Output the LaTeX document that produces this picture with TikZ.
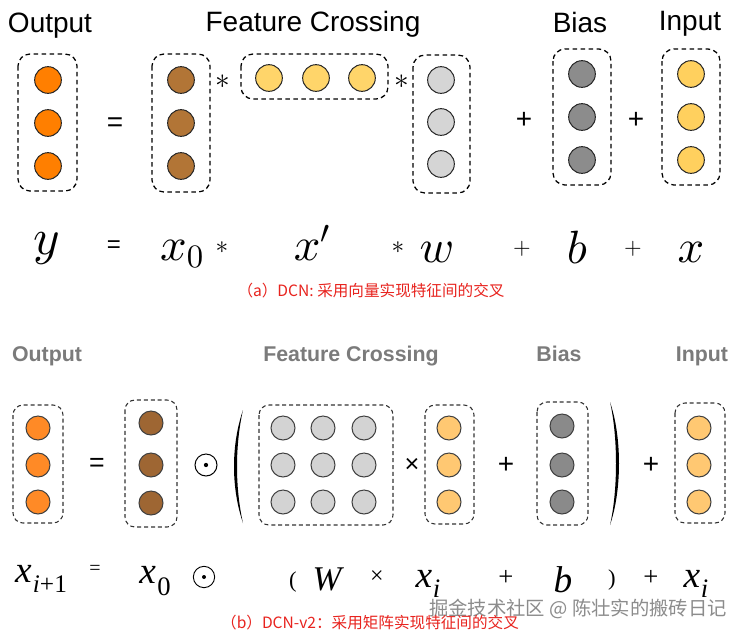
\documentclass[tikz,border=0pt]{standalone}
\usepackage{fontspec}
\DeclareFontShape{OML}{cmm}{m}{it}{<->cmmi10}{\skewchar\font'177}
\DeclareFontShape{OMS}{cmsy}{m}{n}{<->cmsy10}{\skewchar\font'60}
\DeclareFontShape{OT1}{cmr}{m}{n}{<->cmr10}{}
\newfontfamily\hel{Liberation Sans}
\newfontfamily\tms{Liberation Serif}
\newfontfamily\cjk{Noto Sans CJK SC}
\definecolor{orgA}{HTML}{FF7F00}
\definecolor{brnA}{HTML}{B27536}
\definecolor{ylwA}{HTML}{FFD56A}
\definecolor{lgA}{HTML}{D5D5D5}
\definecolor{dgA}{HTML}{8C8C8C}
\definecolor{inA}{HTML}{FFD05E}
\definecolor{orgB}{HTML}{FF8A26}
\definecolor{brnB}{HTML}{9E6633}
\definecolor{lgB}{HTML}{D3D3D3}
\definecolor{ylwB}{HTML}{FFC872}
\definecolor{dgB}{HTML}{8A8A8A}
\definecolor{labgray}{HTML}{7B7B7B}
\definecolor{capred}{HTML}{E8231E}
\begin{document}
\begin{tikzpicture}[x=0.75pt,y=-0.75pt,
  dboxa/.style={draw=black, line width=0.95pt, dash pattern=on 3.5pt off 2.5pt, rounded corners=9pt},
  dboxb/.style={draw=black!80, line width=0.8pt, dash pattern=on 3pt off 2.2pt, rounded corners=7.5pt},
  ca/.style={circle, draw=black!85, line width=0.75pt, minimum size=20pt, inner sep=0pt},
  cb/.style={circle, draw=black!75, line width=0.75pt, minimum size=18pt, inner sep=0pt},
  hd/.style={font=\hel\fontsize{21}{24}\selectfont, anchor=base, inner sep=0pt},
  hdb/.style={font=\hel\bfseries\fontsize{16}{18}\selectfont, text=labgray, anchor=base, inner sep=0pt},
  cmm/.style={font=\fontsize{35}{40}\selectfont, anchor=base, inner sep=0pt},
  tmm/.style={font=\tms\itshape\fontsize{28}{30}\selectfont, anchor=base, inner sep=0pt},
  op/.style={inner sep=0pt},
  capt/.style={font=\cjk\fontsize{11.7}{14}\selectfont, text=capred, inner sep=0pt}]
\useasboundingbox[fill=white] (0,0) rectangle (740,637);

% ---------- (a) top ----------
\node[hd] (tOut) at (50,32) {Output};
\node[hd] (tFC) at (313,31) {Feature Crossing};
\node[hd] (tBias) at (580,32) {Bias};
\node[hd] (tIn) at (690,30) {Input};

\draw[dboxa] (18,54) rectangle (77,191);
\foreach \y [count=\i] in {80,123,166} \node[ca, fill=orgA] (aO\i) at (48,\y) {};
\node[op, font=\hel\fontsize{21}{24}\selectfont] (aEq) at (115,125) {=};

\draw[dboxa] (152,54) rectangle (210,192);
\foreach \y [count=\i] in {80,123,166} \node[ca, fill=brnA] (aX\i) at (181,\y) {};
\node[op, font=\fontsize{22}{24}\selectfont] (aS1) at (223,82) {$\ast$};

\draw[dboxa] (241,54) rectangle (388,99);
\foreach \x [count=\i] in {269,316,362} \node[ca, fill=ylwA] (aP\i) at (\x,78) {};
\node[op, font=\fontsize{22}{24}\selectfont] (aS2) at (402,82) {$\ast$};

\draw[dboxa] (413,55) rectangle (470,193);
\foreach \y [count=\i] in {80,122,164} \node[ca, fill=lgA] (aW\i) at (441,\y) {};

\node[op, font=\hel\fontsize{21}{24}\selectfont] (aPl1) at (524,120) {+};
\draw[dboxa] (553,49) rectangle (611,185);
\foreach \y [count=\i] in {74,117,160} \node[ca, fill=dgA] (aB\i) at (582,\y) {};

\node[op, font=\hel\fontsize{21}{24}\selectfont] (aPl2) at (636,120) {+};
\draw[dboxa] (662,49) rectangle (720,185);
\foreach \y [count=\i] in {74,117,160} \node[ca, fill=inA] (aI\i) at (691,\y) {};

% equation (a)
\node[cmm, font=\fontsize{38}{40}\selectfont] (eY) at (47,254) {$y$};
\node[op, font=\hel\fontsize{18}{20}\selectfont] (eEq) at (114,247) {=};
\node[cmm] (eX0) at (182,260) {$x_0$};
\node[op, font=\fontsize{19}{20}\selectfont] (eS1) at (222,248) {$\ast$};
\node[cmm] (eXp) at (312,260) {$x'$};
\node[op, font=\fontsize{19}{20}\selectfont] (eS2) at (398,248) {$\ast$};
\node[cmm] (eW) at (437,262) {$w$};
\node[op, font=\fontsize{17}{18}\selectfont] (ePl1) at (522,249) {$+$};
\node[cmm] (eB) at (577,263) {$b$};
\node[op, font=\fontsize{17}{18}\selectfont] (ePl2) at (633,249) {$+$};
\node[cmm] (eX) at (691,262) {$x$};

\node[capt] (capA) at (371,291) {（a）DCN: 采用向量实现特征间的交叉};

% ---------- (b) bottom ----------
\node[hdb] (bOut) at (47,361) {Output};
\node[hdb] (bFC) at (351,361) {Feature Crossing};
\node[hdb] (bBias) at (559,361) {Bias};
\node[hdb] (bIn) at (702,361) {Input};

\draw[dboxb] (13,405) rectangle (63,523);
\foreach \y [count=\i] in {428,465,502} \node[cb, fill=orgB] (bO\i) at (38,\y) {};
\node[op, font=\hel\fontsize{20}{22}\selectfont] (bEq) at (97,465) {=};

\draw[dboxb] (125,400) rectangle (177,527);
\foreach \y [count=\i] in {423,465,503} \node[cb, fill=brnB] (bX\i) at (151,\y) {};

\node[circle, draw, line width=0.75pt, minimum size=16.5pt, inner sep=0pt] (bOd) at (206,465) {};
\fill (bOd.center) circle (1.6pt);

\fill (243,410) .. controls (231,445) and (231,488) .. (243,523)
      .. controls (235,488) and (235,445) .. (243,410);

\draw[dboxb] (259,405) rectangle (393,525);
\foreach \y [count=\j] in {428,465,502}
  \foreach \x [count=\i] in {283,323,364}
    \node[cb, fill=lgB] (bM\j\i) at (\x,\y) {};
\node[op, font=\hel\fontsize{19}{20}\selectfont] (bTimes) at (412,465) {×};

\draw[dboxb] (425,405) rectangle (474,524);
\foreach \y [count=\i] in {428,465,502} \node[cb, fill=ylwB] (bXi\i) at (449,\y) {};
\node[op, font=\hel\fontsize{21}{22}\selectfont] (bPl1) at (506,465) {+};

\draw[dboxb] (537,402) rectangle (588,525);
\foreach \y [count=\i] in {426,465,502} \node[cb, fill=dgB] (bB\i) at (562,\y) {};

\fill (610,402) .. controls (622,437) and (622,490) .. (610,525)
      .. controls (618,490) and (618,437) .. (610,402);

\node[op, font=\hel\fontsize{21}{22}\selectfont] (bPl2) at (651,465) {+};
\draw[dboxb] (675,403) rectangle (725,523);
\foreach \y [count=\i] in {428,465,502} \node[cb, fill=ylwB] (bI\i) at (699,\y) {};

% equation (b)
\node[tmm] (fX1) at (41,582) {x\kern1pt\raisebox{-8pt}{\fontsize{19}{20}\selectfont i\upshape+1}};
\node[op, font=\tms\fontsize{15}{16}\selectfont] (fEq) at (95,570) {=};
\node[tmm] (fX0) at (155,583) {x\kern1pt\raisebox{-9pt}{\fontsize{20}{20}\selectfont\upshape 0}};
\node[circle, draw, line width=0.7pt, minimum size=16pt, inner sep=0pt] (fOd) at (204,577) {};
\fill (fOd.center) circle (1.5pt);
\node[op, font=\tms\fontsize{17}{18}\selectfont] (fLp) at (293,582) {(};
\node[tmm, font=\tms\itshape\fontsize{26}{28}\selectfont] (fW) at (327,590) {W};
\node[op, font=\tms\fontsize{18}{20}\selectfont] (fTimes) at (377,577) {×};
\node[tmm] (fXi) at (428,587) {x\kern0.5pt\raisebox{-7.5pt}{\fontsize{20}{20}\selectfont i}};
\node[op, font=\tms\fontsize{20}{22}\selectfont] (fPl1) at (506,578) {+};
\node[tmm] (fB) at (563,592) {b};
\node[op, font=\tms\fontsize{17}{18}\selectfont] (fRp) at (612,580) {)};
\node[op, font=\tms\fontsize{20}{22}\selectfont] (fPl2) at (651,578) {+};
\node[tmm] (fXi2) at (696,587) {x\kern0.5pt\raisebox{-7.5pt}{\fontsize{20}{20}\selectfont i}};

\node[font=\cjk\fontsize{14.5}{16}\selectfont, text=black!45, inner sep=0pt] (wm) at (578,609) {掘金技术社区 @ 陈壮实的搬砖日记};
\node[capt] (capB) at (370,623) {（b）DCN-v2：采用矩阵实现特征间的交叉};
\end{tikzpicture}
\end{document}
